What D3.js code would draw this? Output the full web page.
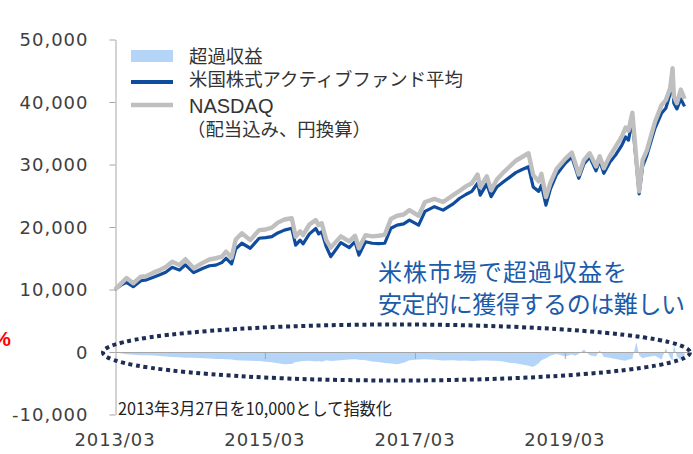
<!DOCTYPE html>
<html><head><meta charset="utf-8">
<script src="https://cdn.jsdelivr.net/npm/d3@7"></script>
<style>
html,body{margin:0;padding:0;background:#fff;}
svg{display:block;}
</style></head>
<body>
<svg id="chart" width="693" height="454"></svg>
<script>
// ---- data ----
const dates = ["2013-03-27","2013-04-30","2013-05-22","2013-06-24","2013-07-31","2013-08-28","2013-09-30","2013-10-31","2013-11-29","2013-12-31",
"2014-02-04","2014-03-05","2014-04-14","2014-05-30","2014-06-30","2014-07-31","2014-08-29","2014-09-19","2014-10-16","2014-11-05","2014-12-05",
"2015-01-15","2015-02-27","2015-03-31","2015-04-30","2015-05-29","2015-06-30","2015-08-05","2015-08-24","2015-09-15","2015-09-29","2015-10-30","2015-11-30","2015-12-14","2015-12-29",
"2016-01-20","2016-02-11","2016-03-31","2016-05-11","2016-06-08","2016-06-27","2016-07-29","2016-08-31","2016-09-30","2016-10-31","2016-11-30","2016-12-30",
"2017-01-31","2017-02-28","2017-04-14","2017-05-15","2017-06-30","2017-08-11","2017-09-29","2017-10-31","2017-11-30","2017-12-29",
"2018-01-26","2018-02-08","2018-03-12","2018-04-02","2018-04-30","2018-05-31","2018-06-29","2018-07-31","2018-08-31","2018-10-01","2018-10-24","2018-11-20","2018-12-03","2018-12-25",
"2019-01-15","2019-02-15","2019-03-29","2019-04-30","2019-05-15","2019-06-03","2019-06-28","2019-07-26","2019-08-26","2019-09-13","2019-10-03","2019-10-31","2019-11-29","2019-12-30",
"2020-01-17","2020-01-31","2020-02-19","2020-03-09","2020-03-23","2020-04-09","2020-04-30","2020-06-08","2020-07-10","2020-07-31","2020-08-21","2020-09-02","2020-09-08","2020-09-23","2020-10-12","2020-10-30"];

const nasdaq = [10000,11100,11850,11000,12050,12150,12700,13100,13600,14450,
13900,14850,13400,14300,14800,15000,15250,16050,15100,18000,19000,
17900,19500,19600,19900,20700,21200,21400,18450,19300,18700,20400,21100,20300,20600,
17900,16700,18500,17700,18600,16600,18700,18500,18600,18750,21300,21800,
22000,22700,21800,24000,24500,24000,25100,25800,26500,27000,
28400,26400,28100,25900,27600,28700,29600,30600,31200,31800,28300,27300,28500,24800,
27000,29300,30900,31900,30400,28400,30700,31800,29700,31300,29400,31300,32800,34500,
35900,35400,38300,31000,25700,30700,32300,36800,39500,40300,42200,45400,40900,39800,42000,40500];

const fund = [10000,10800,11150,10450,11400,11550,11950,12350,12750,13550,
13100,13950,12700,13400,13800,13900,14300,15000,14100,16500,17400,
16600,18200,18300,18450,19050,19500,19800,17100,17900,17300,18900,19750,18900,19250,
16850,15250,17500,16700,17650,15500,17650,17400,17350,17400,19800,20300,
20500,21100,20300,22500,23250,22700,23700,24600,25200,25700,
27000,25100,26900,24850,26400,27200,27900,28700,29200,29650,26400,25700,26700,23500,
26000,28400,30200,31200,29700,27800,30100,31200,29000,30600,28600,30300,31500,33100,
34400,33900,37000,30300,25300,29700,31500,35800,38200,39000,41300,43000,39800,38900,40500,39300];

const excess = [0,-250,-350,-450,-500,-500,-550,-650,-700,-800,
-850,-900,-900,-1000,-1050,-1100,-1100,-1150,-1200,-1300,-1350,
-1400,-1450,-1550,-1650,-1800,-1950,-1900,-1600,-1500,-1450,-1400,-1500,-1450,-1550,
-1300,-1450,-1300,-1200,-1150,-1250,-1300,-1500,-1600,-1750,-1850,-1950,
-1700,-1300,-1200,-1150,-1250,-1350,-1300,-1400,-1350,-1450,
-1400,-1350,-1350,-1400,-1400,-1500,-1700,-1800,-2000,-2200,-2400,-1800,-1300,-1000,
-600,-300,-700,-400,-600,-300,400,-500,-700,300,-800,-900,-1100,-1300,
-1400,-1200,-1100,1600,-500,-1000,-800,-600,-1200,600,-900,-1400,1200,-700,-1300,-600];

const yTicks = [-10000,0,10000,20000,30000,40000,50000];
const xTickDates = ["2013-03-27","2015-03-27","2017-03-27","2019-03-27"];
const xTickLabels = ["2013/03","2015/03","2017/03","2019/03"];
const seriesNames = ["超過収益","米国株式アクティブファンド平均","NASDAQ","（配当込み、円換算）"];
const noteText = "2013年3月27日を10,000として指数化";
const calloutLines = ["米株市場で超過収益を","安定的に獲得するのは難しい"];

// ---- drawing ----
const parse = d3.timeParse("%Y-%m-%d");
const svg = d3.select("#chart");
const colExcess = "#B5D5F8", colFund = "#0F4C9E", colNasdaq = "#BFBFBF", axisCol = "#A6A6A6", txtCol = "#404040";

const x = d3.scaleTime().domain([parse("2013-03-27"), parse("2020-11-16")]).range([115, 688]);
const y = d3.scaleLinear().domain([-10000, 50000]).range([414.5, 39.5]);

const rows = dates.map((d,i)=>({t:parse(d), n:nasdaq[i], f:fund[i], e:excess[i]}));

// y axis
const yAxis = svg.append("g").attr("transform","translate(115.5,0)")
  .call(d3.axisLeft(y).tickValues(yTicks).tickSize(6).tickSizeOuter(0).tickPadding(21)
    .tickFormat(d => d3.format(",")(d).replace("\u2212","-")));
yAxis.selectAll("path,line").attr("stroke", axisCol);
yAxis.selectAll("text").attr("font-family","DejaVu Sans").attr("font-size","18px").attr("letter-spacing","1px")
  .attr("fill",txtCol).attr("dy","0.36em");

// excess area
svg.append("path").datum(rows)
  .attr("fill", colExcess)
  .attr("d", d3.area().x(d=>x(d.t)).y0(y(0)).y1(d=>y(d.e)));

// zero axis line with ticks
const xAxis = svg.append("g").attr("transform",`translate(0,${y(0)})`)
  .call(d3.axisBottom(x).tickValues(xTickDates.slice(1).map(parse)).tickSize(7).tickSizeOuter(0).tickFormat(""));
xAxis.selectAll("path,line").attr("stroke", axisCol);

// x labels
svg.append("g").selectAll("text").data(xTickDates).join("text")
  .attr("x", d=>x(parse(d))).attr("y", 446)
  .attr("text-anchor","middle").attr("font-family","DejaVu Sans").attr("font-size","18px").attr("letter-spacing","0.9px")
  .attr("fill",txtCol)
  .text((d,i)=>xTickLabels[i]);

// lines
const line = key => d3.line().x(d=>x(d.t)).y(d=>y(d[key]));
svg.append("path").datum(rows).attr("fill","none").attr("stroke",colFund).attr("stroke-width",3.2)
  .attr("stroke-linejoin","round").attr("d", line("f"));
svg.append("path").datum(rows).attr("fill","none").attr("stroke",colNasdaq).attr("stroke-width",4.4)
  .attr("stroke-linejoin","round").attr("d", line("n"));

// legend
const lg = svg.append("g");
lg.append("rect").attr("x",131).attr("y",50).attr("width",42).attr("height",12).attr("fill",colExcess);
lg.append("line").attr("x1",131).attr("x2",173).attr("y1",82).attr("y2",82).attr("stroke",colFund).attr("stroke-width",4);
lg.append("line").attr("x1",131).attr("x2",173).attr("y1",105).attr("y2",105).attr("stroke",colNasdaq).attr("stroke-width",4.5);
const lgFont = "'Noto Sans CJK JP', sans-serif";
lg.append("text").attr("x",189).attr("y",62.5).text(seriesNames[0]);
lg.append("text").attr("x",189).attr("y",86).text(seriesNames[1]);
lg.append("text").attr("x",189).attr("y",112.5).attr("font-family","Liberation Sans").attr("font-size","20px").text(seriesNames[2]);
lg.append("text").attr("x",187).attr("y",136).text(seriesNames[3]);
lg.selectAll("text").each(function(){
  const s=d3.select(this);
  if(!s.attr("font-family")) s.attr("font-family",lgFont).attr("font-size","18.4px");
  s.attr("fill","#333");
});

// callout
svg.append("g").selectAll("text").data(calloutLines).join("text")
  .attr("x",378).attr("y",(d,i)=>281+i*32)
  .attr("font-family",lgFont).attr("font-size","24px").attr("fill","#1C5BAA")
  .attr("textLength",(d,i)=>i===0?249:307).attr("lengthAdjust","spacing")
  .text(d=>d);

// note
svg.append("text").attr("x",118).attr("y",414.5).attr("font-family",lgFont).attr("font-size","17px")
  .attr("fill","#222").attr("textLength",274).attr("lengthAdjust","spacingAndGlyphs").text(noteText);

// dotted ellipse
svg.append("ellipse").attr("cx",396.5).attr("cy",352.5).attr("rx",293.5).attr("ry",28)
  .attr("fill","none").attr("stroke","#1F2D55").attr("stroke-width",4).attr("stroke-dasharray","4 3.6");

// red partial percent at left edge
svg.append("text").attr("x",11).attr("y",346).attr("text-anchor","end")
  .attr("font-family","Liberation Sans").attr("font-weight","bold").attr("font-size","21px").attr("fill","#FF0000").text("%");
</script>
</body></html>
